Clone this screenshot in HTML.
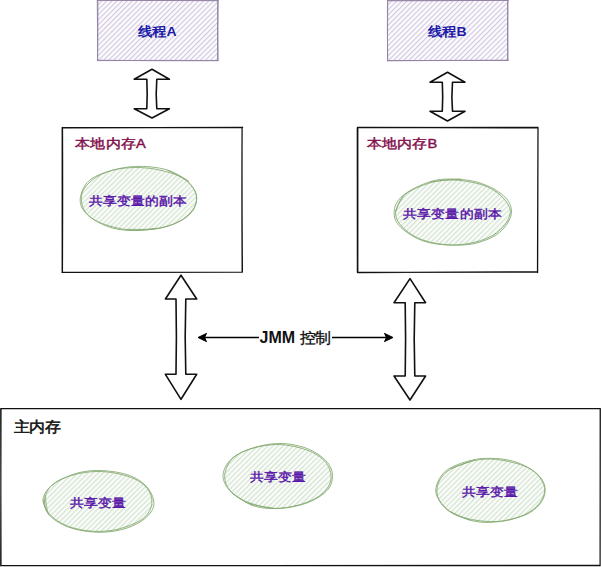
<!DOCTYPE html><html><head><meta charset="utf-8"><style>html,body{margin:0;padding:0;background:#fff;width:601px;height:567px;overflow:hidden}svg{display:block}text{font-family:"Liberation Sans",sans-serif}</style></head><body>
<svg width="601" height="567" viewBox="0 0 601 567">
<defs>
<pattern id="hp" patternUnits="userSpaceOnUse" width="3.6" height="10" patternTransform="rotate(45)"><rect width="3.6" height="10" fill="#fcfbfe"/><rect x="0" y="0" width="1.15" height="10" fill="#d2c8de"/></pattern>
<pattern id="hg" patternUnits="userSpaceOnUse" width="3.6" height="10" patternTransform="rotate(45)"><rect width="3.6" height="10" fill="#fbfdfb"/><rect x="0" y="0" width="1.3" height="10" fill="#d5e4d2"/></pattern>
</defs>
<rect width="601" height="567" fill="#fff"/>
<rect x="97.5" y="0.5" width="120.5" height="60" fill="url(#hp)"/>
<path d="M97.4 0.3 Q157.8 0.2 218.1 0.2 M217.7 0.5 Q217.4 30.2 217.7 60.5 M218.0 60.7 Q157.7 60.9 97.3 60.3 M97.5 60.4 Q98.0 30.2 97.8 0.2 M97.3 0.3 Q157.3 0.5 217.9 0.7 M218.1 0.4 Q217.7 30.1 218.0 60.2 M218.1 60.5 Q157.7 60.3 97.4 60.6 M97.7 60.6 Q97.5 30.9 97.3 0.5" fill="none" stroke="#9585a5" stroke-width="1.0" stroke-linecap="round"/>
<rect x="387.5" y="0.5" width="120.5" height="60" fill="url(#hp)"/>
<path d="M387.6 0.4 Q447.9 0.5 508.3 0.3 M507.8 0.5 Q508.0 30.6 507.7 60.6 M508.2 60.4 Q448.0 60.4 387.6 60.6 M387.7 60.8 Q387.2 30.8 387.5 0.6 M387.6 0.8 Q447.8 0.7 508.2 0.4 M507.7 0.5 Q507.4 30.6 507.8 60.3 M507.8 60.3 Q447.3 60.5 387.4 60.7 M387.5 60.7 Q387.4 30.7 387.7 0.7" fill="none" stroke="#9585a5" stroke-width="1.0" stroke-linecap="round"/>
<path d="M152 69.3 L169.4 79.3 L156.8 79.3 Q155.60000000000002 94.05 156.8 108.8 L169.4 108.8 L152 118 L134.2 108.8 L146.8 108.8 Q147.60000000000002 94.05 146.8 79.3 L134.2 79.3 Z" fill="#fff" stroke="#111" stroke-width="1.6" stroke-linejoin="round"/>
<path d="M447.5 72.3 L465 82.2 L452.5 82.2 Q451.3 96.7 452.5 111.2 L465 111.2 L447.5 121 L430 111.2 L442.3 111.2 Q443.1 96.7 442.3 82.2 L430 82.2 Z" fill="#fff" stroke="#111" stroke-width="1.6" stroke-linejoin="round"/>
<path d="M62.2 127.8 Q152.1 127.3 242.6 127.4 M242.1 127.6 Q241.8 199.7 242.4 272.1 M242.2 272.2 Q152.4 272.4 62.6 272.3 M62.4 271.9 Q62.8 200.1 62.5 127.8 M62.2 127.5 Q151.7 127.2 242.1 127.7 M242.1 127.4 Q241.7 199.3 242.2 271.9 M242.1 272.1 Q152.2 271.9 62.0 272.4 M62.2 272.1 Q62.5 200.2 62.2 127.4" fill="none" stroke="#111" stroke-width="1.25" stroke-linecap="round"/>
<path d="M357.5 127.6 Q447.4 127.2 537.6 127.4 M538.0 127.4 Q537.8 199.6 537.5 272.5 M537.8 271.9 Q448.0 272.4 357.5 272.5 M357.4 272.1 Q357.4 200.2 357.3 127.8 M357.4 127.4 Q448.0 128.0 538.0 127.9 M538.0 127.7 Q537.7 199.5 537.6 272.2 M537.5 272.1 Q447.9 272.1 357.4 272.3 M357.8 272.5 Q357.5 199.7 357.8 127.5" fill="none" stroke="#111" stroke-width="1.25" stroke-linecap="round"/>
<g transform="translate(75.3,148.3) scale(1,0.87)"><text x="0" y="0" font-size="14.6" fill="#820f4c" stroke="#820f4c" stroke-width="0.5" letter-spacing="0.25" text-anchor="start">本地内存A</text></g>
<g transform="translate(366.8,148.3) scale(1,0.87)"><text x="0" y="0" font-size="14.6" fill="#820f4c" stroke="#820f4c" stroke-width="0.5" letter-spacing="0.25" text-anchor="start">本地内存B</text></g>
<ellipse cx="138.7" cy="199" rx="58" ry="32" fill="url(#hg)"/>
<path d="M157.32 228.28 C152.69 228.58 139.19 231.04 129.51 230.05 C119.84 229.06 106.84 225.71 99.26 222.33 C91.69 218.95 86.84 214.83 84.04 209.77 C81.25 204.71 80.38 197.42 82.48 191.96 C84.59 186.50 90.60 180.84 96.67 177.00 C102.74 173.15 110.24 170.34 118.89 168.87 C127.54 167.40 138.72 167.02 148.59 168.17 C158.46 169.32 170.59 172.31 178.12 175.78 C185.66 179.25 190.88 184.34 193.81 188.99 C196.74 193.65 197.40 198.79 195.71 203.73 C194.01 208.67 189.73 214.55 183.66 218.65 C177.60 222.74 168.91 226.50 159.32 228.28 C149.72 230.07 131.63 229.17 126.09 229.35" fill="none" stroke="#88ab75" stroke-width="0.9" stroke-linecap="round"/>
<path d="M167.62 170.45 C170.87 172.16 182.30 176.35 187.12 180.72 C191.95 185.09 195.92 191.25 196.56 196.64 C197.20 202.03 195.25 208.32 190.95 213.07 C186.66 217.81 179.19 222.24 170.78 225.12 C162.36 228.01 150.21 229.92 140.47 230.40 C130.73 230.88 120.90 230.35 112.36 228.01 C103.82 225.66 94.57 220.76 89.21 216.32 C83.85 211.88 80.53 206.98 80.19 201.36 C79.84 195.74 82.78 187.49 87.16 182.60 C91.55 177.71 98.38 174.73 106.48 172.03 C114.57 169.33 125.68 166.78 135.72 166.39 C145.76 166.00 157.91 167.27 166.70 169.72 C175.48 172.16 184.80 179.17 188.42 181.06" fill="none" stroke="#88ab75" stroke-width="0.9" stroke-linecap="round"/>
<ellipse cx="453" cy="212.5" rx="57.6" ry="33" fill="url(#hg)"/>
<path d="M395.73 211.90 C397.08 209.18 398.69 200.25 403.84 195.59 C408.99 190.93 418.72 186.58 426.61 183.96 C434.49 181.34 441.94 179.75 451.15 179.87 C460.35 179.99 473.53 182.02 481.84 184.69 C490.15 187.35 496.28 191.34 501.03 195.88 C505.78 200.42 510.40 206.32 510.33 211.91 C510.26 217.50 505.54 224.65 500.60 229.43 C495.67 234.21 488.86 238.01 480.74 240.61 C472.61 243.21 461.56 245.14 451.85 245.02 C442.14 244.90 430.72 242.89 422.46 239.89 C414.20 236.88 406.76 231.62 402.28 227.00 C397.79 222.38 395.30 217.36 395.53 212.15 C395.76 206.93 402.32 198.46 403.68 195.72" fill="none" stroke="#88ab75" stroke-width="0.9" stroke-linecap="round"/>
<path d="M430.35 181.84 C435.62 181.46 452.39 178.92 461.94 179.59 C471.49 180.26 480.10 182.52 487.66 185.87 C495.22 189.22 503.44 194.61 507.30 199.68 C511.15 204.76 512.40 210.61 510.77 216.32 C509.14 222.03 504.01 229.35 497.54 233.97 C491.07 238.58 481.34 242.25 471.94 244.00 C462.54 245.76 450.23 245.37 441.15 244.47 C432.08 243.58 424.78 242.14 417.48 238.63 C410.17 235.12 401.04 228.81 397.31 223.43 C393.58 218.04 393.46 211.49 395.10 206.32 C396.74 201.16 400.63 196.75 407.15 192.45 C413.67 188.15 425.29 182.75 434.22 180.51 C443.16 178.28 456.35 179.28 460.77 179.04" fill="none" stroke="#88ab75" stroke-width="0.9" stroke-linecap="round"/>
<g transform="translate(137.6,204.5) scale(1,0.87)"><text x="0" y="0" font-size="14.3" fill="#5814a8" stroke="#5814a8" stroke-width="0.45" letter-spacing="0.15" text-anchor="middle">共享变量的副本</text></g>
<g transform="translate(452.5,218.2) scale(1,0.87)"><text x="0" y="0" font-size="14.3" fill="#5814a8" stroke="#5814a8" stroke-width="0.45" letter-spacing="0.15" text-anchor="middle">共享变量的副本</text></g>
<g transform="translate(157.6,36.2) scale(1,0.9)"><text x="0" y="0" font-size="14" fill="#1c1ca8" font-weight="bold" letter-spacing="0.6" text-anchor="middle">线程A</text></g>
<g transform="translate(447.6,36.2) scale(1,0.9)"><text x="0" y="0" font-size="14" fill="#1c1ca8" font-weight="bold" letter-spacing="0.6" text-anchor="middle">线程B</text></g>
<path d="M181 275.2 L196.7 299 L185.8 299 Q184.60000000000002 336.65 185.8 374.3 L196.7 374.3 L181 399.3 L165.4 374.3 L176 374.3 Q176.8 336.65 176 299 L165.4 299 Z" fill="#fff" stroke="#111" stroke-width="1.6" stroke-linejoin="round"/>
<path d="M410 278.6 L425.6 302.7 L414.8 302.7 Q413.6 339.35 414.8 376 L425.6 376 L410 400 L394 376 L405.2 376 Q406.0 339.35 405.2 302.7 L394 302.7 Z" fill="#fff" stroke="#111" stroke-width="1.6" stroke-linejoin="round"/>
<path d="M204 337.5 L259 337.5 M332 337.5 L387 337.5" stroke="#000" stroke-width="1.3"/>
<path d="M198 337.5 L206.5 333.4 L204.5 337.5 L206.5 341.6 Z" fill="#000" stroke="#000" stroke-width="1"/>
<path d="M393 337.5 L384.5 333.4 L386.5 337.5 L384.5 341.6 Z" fill="#000" stroke="#000" stroke-width="1"/>
<text x="259.5" y="342.7" font-size="16" font-weight="bold" fill="#111">JMM</text>
<g transform="translate(299.8,342.8) scale(1,0.94)"><text x="0" y="0" font-size="15.6" fill="#111" stroke="#111" stroke-width="0.35" text-anchor="start">控制</text></g>
<path d="M0.9 408.6 Q300.4 408.6 600.4 408.7 M600.2 408.5 Q600.3 486.6 600.1 565.5 M600.2 565.6 Q300.6 565.6 0.7 565.5 M0.7 565.8 Q0.6 487.1 1.0 408.8 M0.7 408.7 Q300.3 408.9 600.1 408.5 M600.3 408.5 Q600.3 487.3 600.1 565.8 M600.0 565.4 Q300.2 565.8 1.0 565.6 M1.0 565.7 Q0.5 487.5 0.7 408.7" fill="none" stroke="#111" stroke-width="1.2" stroke-linecap="round"/>
<g transform="translate(13.6,431.6) scale(1,0.94)"><text x="0" y="0" font-size="15.8" fill="#111" stroke="#111" stroke-width="0.55" text-anchor="start">主内存</text></g>
<ellipse cx="98.8" cy="501.7" rx="54.7" ry="30.7" fill="url(#hg)"/>
<path d="M47.28 510.68 C47.09 507.86 44.39 498.70 46.17 493.74 C47.95 488.78 51.77 484.45 57.94 480.95 C64.11 477.44 74.64 474.19 83.20 472.73 C91.76 471.27 100.62 471.12 109.29 472.20 C117.96 473.27 128.54 475.96 135.20 479.18 C141.87 482.40 146.65 486.78 149.28 491.53 C151.90 496.28 152.62 502.77 150.96 507.68 C149.30 512.58 145.69 517.21 139.31 520.97 C132.93 524.74 121.60 528.67 112.70 530.27 C103.81 531.88 94.24 531.67 85.93 530.62 C77.63 529.58 69.46 527.38 62.86 523.99 C56.26 520.61 49.33 515.03 46.33 510.30 C43.33 505.57 45.11 498.06 44.87 495.61" fill="none" stroke="#88ab75" stroke-width="0.9" stroke-linecap="round"/>
<path d="M49.47 515.46 C48.40 512.82 42.50 504.74 43.02 499.62 C43.54 494.50 46.91 489.14 52.58 484.73 C58.25 480.32 68.68 475.52 77.02 473.17 C85.37 470.81 93.88 470.24 102.64 470.63 C111.41 471.02 122.10 472.66 129.59 475.50 C137.08 478.35 143.54 482.67 147.58 487.69 C151.61 492.70 154.64 500.12 153.80 505.58 C152.95 511.04 148.01 516.40 142.48 520.44 C136.96 524.49 128.62 527.92 120.62 529.86 C112.61 531.80 103.24 532.61 94.45 532.11 C85.65 531.61 75.41 529.76 67.83 526.87 C60.25 523.98 53.07 519.34 48.95 514.78 C44.83 510.23 44.09 502.08 43.12 499.54" fill="none" stroke="#88ab75" stroke-width="0.9" stroke-linecap="round"/>
<g transform="translate(97.8,507) scale(1,0.87)"><text x="0" y="0" font-size="14.3" fill="#5814a8" stroke="#5814a8" stroke-width="0.45" letter-spacing="0.15" text-anchor="middle">共享变量</text></g>
<ellipse cx="278" cy="476.3" rx="54" ry="32.2" fill="url(#hg)"/>
<path d="M273.27 508.14 C269.25 507.35 256.35 506.37 249.12 503.40 C241.90 500.43 233.98 495.08 229.92 490.31 C225.87 485.54 224.29 480.15 224.80 474.77 C225.30 469.39 228.27 462.45 232.96 458.03 C237.66 453.60 245.17 450.47 252.96 448.22 C260.75 445.97 270.68 444.23 279.69 444.54 C288.69 444.85 299.36 447.20 306.98 450.09 C314.59 452.98 321.36 457.05 325.36 461.87 C329.37 466.69 331.62 473.60 330.99 479.00 C330.37 484.40 326.93 489.95 321.63 494.26 C316.33 498.57 307.38 502.52 299.18 504.86 C290.97 507.20 281.39 508.83 272.41 508.31 C263.43 507.78 249.84 502.82 245.32 501.72" fill="none" stroke="#88ab75" stroke-width="0.9" stroke-linecap="round"/>
<path d="M252.36 505.17 C248.88 503.04 236.37 497.16 231.48 492.40 C226.59 487.63 223.24 481.94 223.02 476.58 C222.79 471.22 225.75 464.82 230.13 460.24 C234.50 455.67 241.38 451.92 249.27 449.13 C257.16 446.33 268.35 443.78 277.47 443.49 C286.60 443.20 296.22 444.77 304.04 447.38 C311.86 449.99 319.65 454.78 324.39 459.17 C329.13 463.57 331.91 468.66 332.46 473.75 C333.01 478.85 331.70 484.96 327.70 489.73 C323.69 494.50 316.22 499.26 308.44 502.36 C300.66 505.46 290.08 507.74 281.02 508.35 C271.96 508.97 262.26 508.57 254.10 506.05 C245.95 503.53 235.76 495.36 232.09 493.22" fill="none" stroke="#88ab75" stroke-width="0.9" stroke-linecap="round"/>
<g transform="translate(278.4,481) scale(1,0.87)"><text x="0" y="0" font-size="14.3" fill="#5814a8" stroke="#5814a8" stroke-width="0.45" letter-spacing="0.15" text-anchor="middle">共享变量</text></g>
<ellipse cx="490.4" cy="490.6" rx="54.6" ry="31.9" fill="url(#hg)"/>
<path d="M451.17 468.42 C455.61 466.98 469.21 461.17 477.82 459.82 C486.43 458.48 494.17 458.85 502.86 460.33 C511.55 461.81 523.19 464.78 529.97 468.70 C536.74 472.63 541.44 478.90 543.50 483.91 C545.56 488.92 544.80 493.97 542.32 498.75 C539.84 503.52 535.01 508.85 528.62 512.55 C522.22 516.25 512.89 519.68 503.96 520.94 C495.04 522.21 483.98 521.63 475.05 520.14 C466.13 518.64 456.56 515.70 450.41 511.99 C444.25 508.28 440.02 502.93 438.12 497.89 C436.21 492.84 436.84 486.52 438.97 481.71 C441.10 476.91 444.84 472.70 450.89 469.07 C456.93 465.45 471.17 461.50 475.23 459.98" fill="none" stroke="#88ab75" stroke-width="0.9" stroke-linecap="round"/>
<path d="M469.68 520.15 C466.40 518.72 455.54 515.80 449.99 511.54 C444.44 507.29 438.12 500.13 436.38 494.61 C434.65 489.10 436.90 483.06 439.57 478.45 C442.23 473.84 445.62 470.23 452.36 466.95 C459.09 463.67 470.30 459.86 479.98 458.78 C489.65 457.70 501.49 458.44 510.40 460.47 C519.32 462.49 527.80 466.95 533.45 470.95 C539.10 474.95 542.81 479.55 544.30 484.46 C545.79 489.37 545.28 495.47 542.40 500.41 C539.52 505.36 534.50 510.57 527.03 514.12 C519.57 517.67 506.61 520.58 497.64 521.72 C488.66 522.87 481.09 522.64 473.18 520.97 C465.27 519.30 454.01 513.24 450.17 511.69" fill="none" stroke="#88ab75" stroke-width="0.9" stroke-linecap="round"/>
<g transform="translate(490.2,496) scale(1,0.87)"><text x="0" y="0" font-size="14.3" fill="#5814a8" stroke="#5814a8" stroke-width="0.45" letter-spacing="0.15" text-anchor="middle">共享变量</text></g>
</svg></body></html>
